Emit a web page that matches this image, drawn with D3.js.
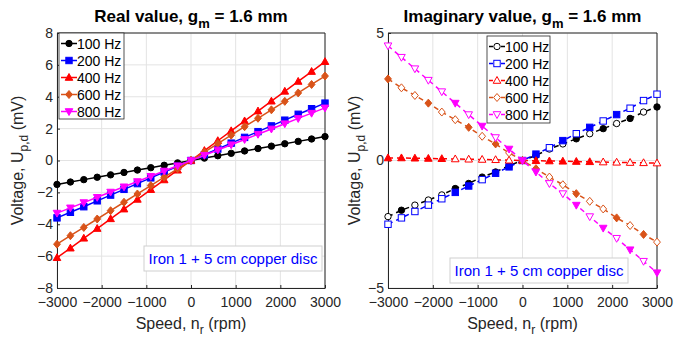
<!DOCTYPE html>
<html>
<head>
<meta charset="utf-8">
<script src="https://cdn.jsdelivr.net/npm/d3@7"></script>
<style>
  body { margin: 0; background: #fff; }
  text { font-family: "Liberation Sans", Arial, sans-serif; }
</style>
</head>
<body>
<svg id="chart" width="674" height="339"></svg>
<script>
// speeds (rpm)
const speeds = [-3000, -2700, -2400, -2100, -1800, -1500, -1200, -900, -600, -300, 0,
                300, 600, 900, 1200, 1500, 1800, 2100, 2400, 2700, 3000]
const freqs = ["100 Hz", "200 Hz", "400 Hz", "600 Hz", "800 Hz"]

// real part (mV)
const real100 = [-1.50, -1.35, -1.20, -1.05, -0.90, -0.75, -0.60, -0.45, -0.30, -0.15, 0,
                 0.15, 0.30, 0.45, 0.60, 0.75, 0.90, 1.05, 1.20, 1.35, 1.50]
const real200 = [-3.60, -3.25, -2.90, -2.53, -2.17, -1.81, -1.45, -1.09, -0.72, -0.36, 0,
                 0.36, 0.72, 1.09, 1.45, 1.81, 2.17, 2.53, 2.90, 3.25, 3.60]
const real400 = [-6.10, -5.50, -4.88, -4.27, -3.66, -3.05, -2.44, -1.83, -1.22, -0.61, 0,
                 0.62, 1.24, 1.86, 2.48, 3.10, 3.72, 4.34, 4.96, 5.58, 6.20]
const real600 = [-5.25, -4.72, -4.20, -3.67, -3.15, -2.62, -2.10, -1.57, -1.05, -0.52, 0,
                 0.53, 1.06, 1.59, 2.12, 2.65, 3.18, 3.71, 4.24, 4.77, 5.30]
const real800 = [-3.30, -2.97, -2.64, -2.31, -1.98, -1.65, -1.32, -0.99, -0.66, -0.33, 0,
                 0.33, 0.66, 0.99, 1.32, 1.65, 1.98, 2.31, 2.64, 2.97, 3.30]

// imaginary part (mV)
const imag100 = [-2.20, -1.95, -1.75, -1.55, -1.35, -1.10, -0.90, -0.65, -0.45, -0.20, 0,
                 0.20, 0.45, 0.65, 0.85, 1.05, 1.25, 1.45, 1.65, 1.90, 2.10]
const imag200 = [-2.50, -2.25, -2.00, -1.75, -1.50, -1.25, -1.00, -0.75, -0.50, -0.25, 0,
                 0.25, 0.50, 0.78, 1.05, 1.30, 1.55, 1.80, 2.05, 2.35, 2.60]
const imag400 = [0.10, 0.10, 0.09, 0.08, 0.07, 0.06, 0.05, 0.04, 0.03, 0.01, 0,
                 -0.01, -0.02, -0.03, -0.04, -0.05, -0.06, -0.07, -0.08, -0.09, -0.10]
const imag600 = [3.20, 2.85, 2.55, 2.25, 1.90, 1.60, 1.30, 0.95, 0.65, 0.30, 0,
                 -0.32, -0.65, -0.95, -1.30, -1.60, -1.90, -2.25, -2.55, -2.90, -3.20]
const imag800 = [4.50, 4.05, 3.60, 3.15, 2.70, 2.25, 1.80, 1.35, 0.90, 0.45, 0,
                 -0.45, -0.90, -1.30, -1.75, -2.20, -2.65, -3.05, -3.50, -3.95, -4.40]

// which points of the imaginary plot show a filled marker
const imagFilled = [
  [0,1,0,0,0,1,1,1,1,1,1,1,0,0,1,0,1,0,1,0,1],
  [0,0,0,0,0,1,1,0,1,1,1,1,0,1,0,1,0,1,0,0,0],
  [1,1,1,1,1,0,0,0,0,0,1,1,1,1,1,1,0,0,0,0,0],
  [1,0,0,1,0,0,1,0,1,0,1,1,0,0,1,0,0,1,0,1,0],
  [0,0,0,0,0,1,0,1,0,1,1,1,0,0,1,0,1,0,1,0,1]
]

const xTicks = [-3000, -2000, -1000, 0, 1000, 2000, 3000]
const yTicksReal = [-8, -6, -4, -2, 0, 2, 4, 6, 8]
const yTicksImag = [-5, 0, 5]

const colors = ["#000000", "#0000ff", "#ff0000", "#d95319", "#ff00ff"]
const shapes = ["circle", "square", "up", "diamond", "down"]

const svg = d3.select("#chart")
const txtColor = "#262626"

const marker = (g, shape, x, y, color, filled) => {
  const s = 3.2
  let el
  if (shape === "circle") {
    el = g.append("circle").attr("cx", x).attr("cy", y).attr("r", s)
  } else if (shape === "square") {
    el = g.append("rect").attr("x", x - s).attr("y", y - s).attr("width", 2 * s).attr("height", 2 * s)
  } else if (shape === "up") {
    el = g.append("path").attr("d", `M${x},${y - 4}L${x + 3.8},${y + 2.8}L${x - 3.8},${y + 2.8}Z`)
  } else if (shape === "down") {
    el = g.append("path").attr("d", `M${x},${y + 4}L${x + 3.8},${y - 2.8}L${x - 3.8},${y - 2.8}Z`)
  } else {
    el = g.append("path").attr("d", `M${x},${y - 4}L${x + 3.4},${y}L${x},${y + 4}L${x - 3.4},${y}Z`)
  }
  el.attr("fill", filled ? color : "#fff").attr("stroke", color).attr("stroke-width", 1)
}

const drawPanel = (opt) => {
  const x = d3.scaleLinear().domain([-3000, 3000]).range([opt.left, opt.right])
  const y = d3.scaleLinear().domain(opt.yDomain).range([opt.bottom, opt.top])
  const g = svg.append("g")

  // grid
  g.selectAll(".vg").data(xTicks).join("line")
    .attr("x1", d => x(d)).attr("x2", d => x(d))
    .attr("y1", opt.top).attr("y2", opt.bottom)
    .attr("stroke", "#e3e3e3").attr("stroke-width", 1)
  g.selectAll(".hg").data(opt.yTicks).join("line")
    .attr("y1", d => y(d)).attr("y2", d => y(d))
    .attr("x1", opt.left).attr("x2", opt.right)
    .attr("stroke", "#e3e3e3").attr("stroke-width", 1)

  // axes
  const xAxis = g.append("g").attr("transform", `translate(0,${opt.bottom})`)
    .call(d3.axisBottom(x).tickValues(xTicks).tickFormat(d3.format("d"))
      .tickSizeInner(-3).tickSizeOuter(0).tickPadding(9))
  const yAxis = g.append("g").attr("transform", `translate(${opt.left},0)`)
    .call(d3.axisLeft(y).tickValues(opt.yTicks).tickFormat(d3.format("d"))
      .tickSizeInner(-3).tickSizeOuter(0).tickPadding(4))
  ;[xAxis, yAxis].forEach(a => {
    a.select(".domain").attr("stroke", "#262626")
    a.selectAll(".tick line").attr("stroke", "#262626")
    a.selectAll(".tick text").attr("fill", txtColor).attr("font-size", 14)
      .attr("font-family", "Liberation Sans, Arial, sans-serif")
  })
  // top & right frame
  g.append("line").attr("x1", opt.left).attr("x2", opt.right).attr("y1", opt.top).attr("y2", opt.top)
    .attr("stroke", "#262626")
  g.append("line").attr("x1", opt.right).attr("x2", opt.right).attr("y1", opt.top).attr("y2", opt.bottom)
    .attr("stroke", "#262626")

  // series
  opt.series.forEach((vals, i) => {
    const line = d3.line().x((d, j) => x(speeds[j])).y(d => y(d))
    g.append("path").datum(vals).attr("d", line)
      .attr("fill", "none").attr("stroke", colors[i]).attr("stroke-width", 1.5)
      .attr("stroke-dasharray", opt.dashed ? "5,4" : null)
    vals.forEach((v, j) => {
      const filled = opt.filled ? opt.filled[i][j] === 1 : true
      marker(g, shapes[i], x(speeds[j]), y(v), colors[i], filled)
    })
  })

  // title
  const title = g.append("text").attr("x", (opt.left + opt.right) / 2).attr("y", 22)
    .attr("text-anchor", "middle").attr("font-size", 17).attr("font-weight", "bold").attr("fill", "#000")
  title.append("tspan").text(opt.title + ", g")
  title.append("tspan").attr("font-size", 13).attr("dy", 6).text("m")
  title.append("tspan").attr("dy", -6).text(" = 1.6 mm")

  // x label
  const xl = g.append("text").attr("x", (opt.left + opt.right) / 2).attr("y", 329)
    .attr("text-anchor", "middle").attr("font-size", 16).attr("fill", txtColor)
  xl.append("tspan").text("Speed, n")
  xl.append("tspan").attr("font-size", 12).attr("dy", 5).text("r")
  xl.append("tspan").attr("dy", -5).text(" (rpm)")

  // y label
  const yl = g.append("text")
    .attr("transform", `translate(${opt.ylabX},${(opt.top + opt.bottom) / 2}) rotate(-90)`)
    .attr("text-anchor", "middle").attr("font-size", 16).attr("fill", txtColor)
  yl.append("tspan").text("Voltage, U")
  yl.append("tspan").attr("font-size", 12).attr("dy", 5).text("p,d")
  yl.append("tspan").attr("dy", -5).text(" (mV)")

  // legend
  const lg = g.append("g").attr("transform", `translate(${opt.leg[0]},${opt.leg[1]})`)
  lg.append("rect").attr("width", opt.leg[2]).attr("height", opt.leg[3])
    .attr("fill", "#fff").attr("stroke", "#262626").attr("stroke-width", 0.8)
  freqs.forEach((f, i) => {
    const yy = 10.5 + i * 17
    lg.append("line").attr("x1", 2).attr("x2", 18).attr("y1", yy).attr("y2", yy)
      .attr("stroke", colors[i]).attr("stroke-width", 1.5)
      .attr("stroke-dasharray", opt.dashed ? "4,2" : null)
    marker(lg, shapes[i], 10, yy, colors[i], !opt.dashed)
    lg.append("text").attr("x", 18).attr("y", yy + 5).attr("font-size", 14).attr("fill", "#000").text(f)
  })

  // annotation
  const ag = g.append("g").attr("transform", `translate(${opt.ann[0]},${opt.ann[1]})`)
  ag.append("rect").attr("width", 178).attr("height", 25)
    .attr("fill", "#fff").attr("stroke", "#cfcfcf").attr("stroke-width", 1)
  ag.append("text").attr("x", 89).attr("y", 18).attr("text-anchor", "middle")
    .attr("font-size", 15).attr("fill", "#0000ff").text("Iron 1 + 5 cm copper disc")
}

drawPanel({
  left: 57, right: 325, top: 33, bottom: 288,
  yDomain: [-8, 8], yTicks: yTicksReal,
  series: [real100, real200, real400, real600, real800],
  title: "Real value", dashed: false,
  leg: [59, 33, 65, 86], ann: [144, 246], ylabX: 23
})

drawPanel({
  left: 388, right: 657, top: 33, bottom: 288,
  yDomain: [-5, 5], yTicks: yTicksImag,
  series: [imag100, imag200, imag400, imag600, imag800],
  filled: imagFilled,
  title: "Imaginary value", dashed: true,
  leg: [487, 36, 63, 87], ann: [450, 258], ylabX: 360
})
</script>
</body>
</html>
